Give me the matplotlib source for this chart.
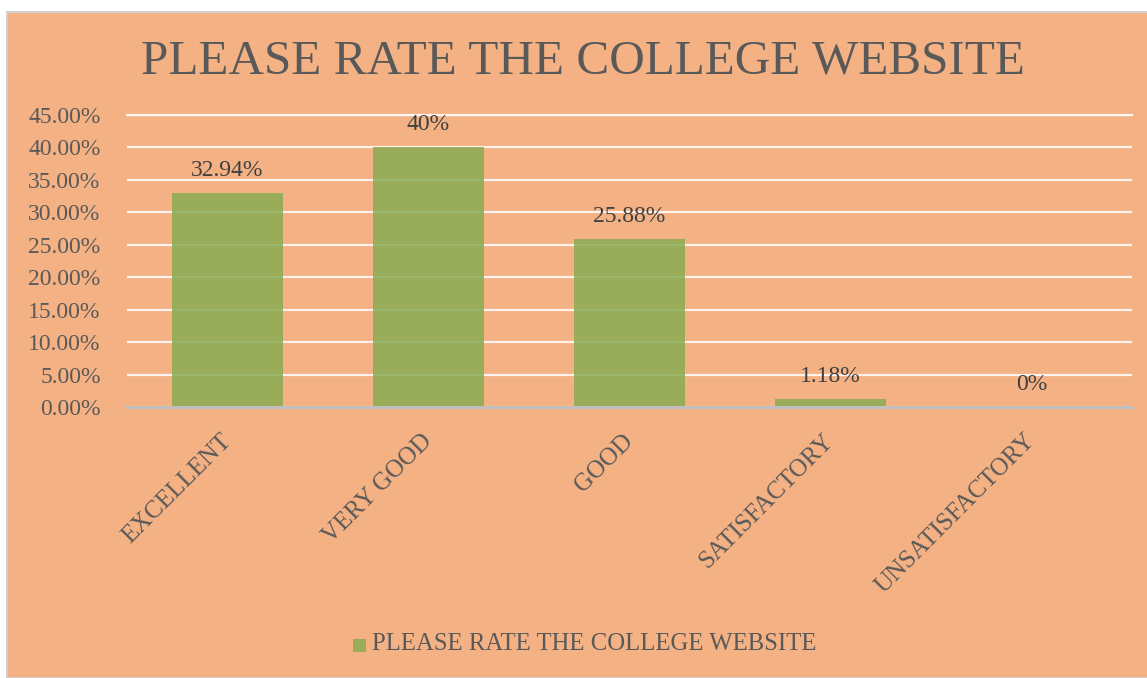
import numpy as np
import matplotlib.pyplot as plt
from matplotlib.patches import Rectangle

# chart data
categories = ["EXCELLENT", "VERY GOOD", "GOOD", "SATISFACTORY", "UNSATISFACTORY"]
values = [0.3294, 0.40, 0.2588, 0.0118, 0.0]
value_labels = ["32.94%", "40%", "25.88%", "1.18%", "0%"]
y_ticks = [0.0, 0.05, 0.10, 0.15, 0.20, 0.25, 0.30, 0.35, 0.40, 0.45]
series_name = "PLEASE RATE THE COLLEGE WEBSITE"

bg = "#F4B183"
bar_color = "#88AC53"
font = "Liberation Serif"

fig = plt.figure(figsize=(11.47, 6.78), dpi=100, facecolor="white")
# orange chart area with thin grey border
fig.patches.append(Rectangle((7 / 1147, 0), 1.0, 1 - 12 / 678, transform=fig.transFigure,
                             facecolor=bg, edgecolor="#D0D0D0", linewidth=1.5, zorder=-5))

ax = fig.add_axes([127 / 1147, 1 - 407 / 678, 1005 / 1147, 292 / 678])
ax.set_facecolor("none")

x = np.arange(len(categories))
ax.bar(x, values, width=0.55, color=bar_color, alpha=0.85, zorder=2)

for xi, v, lab in zip(x, values, value_labels):
    ax.text(xi, v + 0.019, lab, ha="center", va="bottom", fontsize=17,
            family=font, color="#404040")

ax.set_xlim(-0.5, len(categories) - 0.5)
ax.set_ylim(0, 0.45)
ax.set_yticks(y_ticks)
ax.set_yticklabels(["%.2f%%" % (t * 100) for t in y_ticks], family=font,
                   fontsize=17, color="#595959")
ax.set_xticks(x)
ax.set_xticklabels(categories, rotation=45, ha="right", va="center",
                   rotation_mode="anchor", family=font, fontsize=18, color="#595959")
ax.tick_params(axis="both", length=0)
ax.tick_params(axis="y", pad=19)
ax.tick_params(axis="x", pad=22)

ax.grid(axis="y", color="white", linewidth=1.6, alpha=0.85, zorder=1)
ax.set_axisbelow(True)
for s in ["top", "right", "left"]:
    ax.spines[s].set_visible(False)
ax.spines["bottom"].set_color("#BFBFBF")
ax.spines["bottom"].set_linewidth(2.2)
ax.spines["bottom"].set_zorder(3)
# top grid line would be clipped at the axes edge
ax.axhline(0.45, color="white", linewidth=1.6, alpha=0.85, clip_on=False, zorder=1)

fig.text(583 / 1147, 1 - 61 / 678, "PLEASE RATE THE COLLEGE WEBSITE", ha="center",
         va="center", fontsize=35.5, family=font, color="#595959")

# legend
fig.patches.append(Rectangle((353 / 1147, 1 - 652 / 678), 13 / 1147, 13 / 678,
                             transform=fig.transFigure, facecolor=bar_color, alpha=0.85,
                             edgecolor="none", zorder=5))
fig.text(372 / 1147, 1 - 644 / 678, series_name, ha="left", va="center",
         fontsize=17.8, family=font, color="#595959")

fig.savefig("out.png", dpi=100, facecolor=fig.get_facecolor())
